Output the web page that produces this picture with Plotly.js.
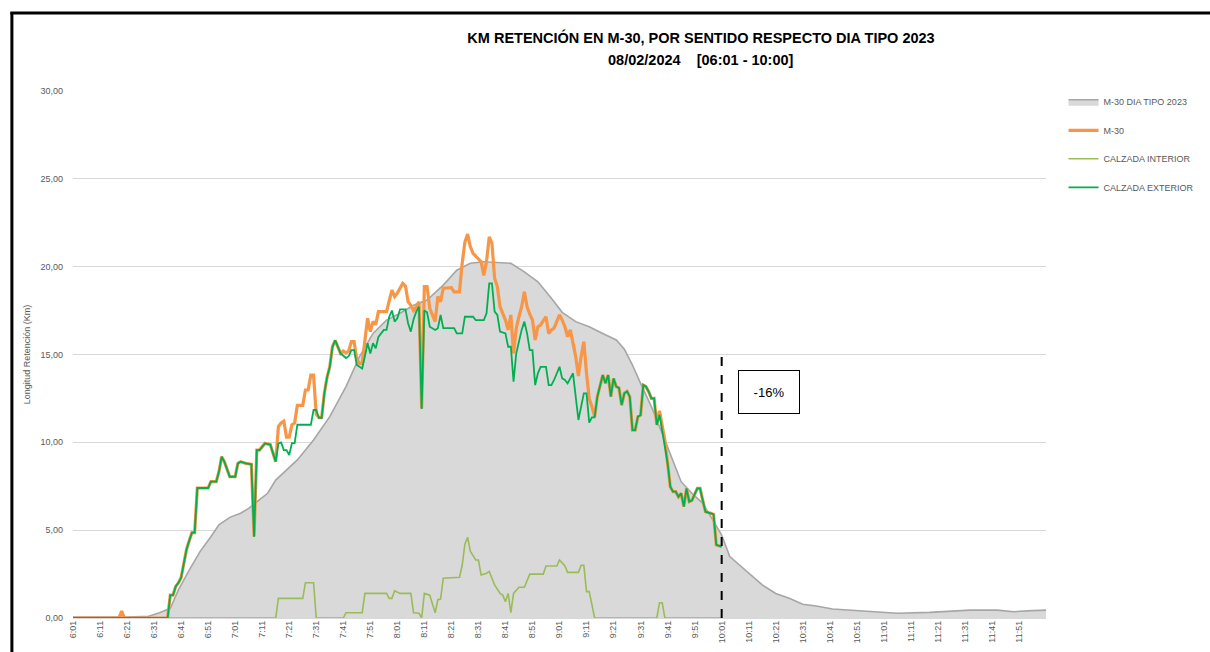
<!DOCTYPE html>
<html>
<head>
<meta charset="utf-8">
<script src="https://cdn.plot.ly/plotly-3.0.1.min.js"></script>
<style>html,body{margin:0;padding:0;background:#fff;}#chart{width:1210px;height:652px;}</style>
</head>
<body>
<div id="chart"></div>
<script>
// minutes counted from 6:01
const tickLabels = ["6:01","6:11","6:21","6:31","6:41","6:51","7:01","7:11","7:21","7:31","7:41","7:51",
  "8:01","8:11","8:21","8:31","8:41","8:51","9:01","9:11","9:21","9:31","9:41","9:51",
  "10:01","10:11","10:21","10:31","10:41","10:51","11:01","11:11","11:21","11:31","11:41","11:51"];

const tipoX = [0,10,20,28,32,36,39,43,47,51,
  54,58,62,65,68,72,75,80,83,89,
  95,101,106,111,116,121,126,131,137,142,
  147,152,157,162,167,172,177,181,186,191,
  196,201,204,207,210,214,218,222,225,229,
  233,236,240,243,250,255,260,265,270,275,
  281,287,295,305,317,325,332,342,348,355,360];
const tipoY = [0.05,0.05,0.05,0.1,0.3,0.55,1.6,2.73,3.78,4.63,
  5.3,5.73,5.96,6.24,6.62,7.1,7.85,8.6,9.0,10.13,
  11.46,13.17,14.88,16.2,16.96,17.35,17.8,18.1,18.95,19.8,
  20.19,20.28,20.22,20.19,19.7,19.14,18.2,17.4,16.87,16.58,
  16.2,15.83,15.3,14.4,13.36,12.03,10.51,9.0,7.76,7.1,
  6.53,5.77,4.72,3.5,2.54,1.88,1.4,1.12,0.78,0.68,
  0.51,0.45,0.36,0.27,0.32,0.4,0.45,0.45,0.36,0.42,0.45];

const m30X = [0,17,18,19,35,36,37,38,39,40,
  41,42,43,44,45,46,50,51,53,54,
  55,56,58,60,61,62,64,66,67,68,
  69,71,73,75,76,77,78,79,80,81,
  82,83,85,86,87,88,89,90,91,92,
  93,94,95,96,97,98,99,100,101,102,
  103,104,105,106,107,108,109,110,111,112,
  113,116,117,118,119,120,122,123,124,125,
  126,127,128,129,130,131,132,134,135,136,
  137,139,140,141,143,144,145,146,147,148,
  149,150,151,152,153,154,155,156,157,158,
  159,160,161,162,163,164,165,166,167,168,
  169,170,171,172,173,174,175,176,177,178,
  180,181,182,183,184,186,187,188,189,190,
  191,192,193,194,196,197,198,199,200,201,
  202,203,204,205,206,207,208,209,210,211,
  212,213,214,215,216,217,218,219,220,221,
  222,223,224,225,226,227,228,229,231,232,
  233,234,236,237,238,240];
const m30Y = [0,0,0.4,0,0,1.3,1.3,1.8,2.0,2.3,
  3.1,3.9,4.4,4.86,4.86,7.4,7.4,7.76,7.76,8.33,
  9.18,8.9,8.04,8.04,8.8,8.9,8.8,8.75,4.63,9.56,
  9.56,9.94,9.87,8.9,10.9,11.1,11.2,10.3,10.3,11.0,
  11.1,12.1,12.1,12.98,12.98,13.83,13.83,11.6,11.4,11.4,
  12.8,13.7,14.3,15.44,15.8,15.44,15.06,15.2,15.1,15.2,
  15.73,15.73,14.7,14.5,14.5,15.8,17.06,16.3,16.87,16.7,
  17.44,17.44,18.0,18.67,18.3,18.5,19.05,18.9,18.0,17.8,
  17.5,17.7,18.0,11.94,18.86,18.86,17.63,16.87,18.3,18.0,
  18.77,18.77,18.8,18.57,18.57,20.2,21.4,21.86,21.14,20.76,
  20.6,20.47,20.28,19.5,20.3,21.7,21.33,19.34,18.86,17.72,
  17.35,16.96,16.4,17.25,15.07,16.5,17.15,17.72,18.57,17.72,
  17.3,16.96,15.83,16.58,16.68,16.96,17.15,16.2,16.4,16.5,
  17.25,16.96,16.58,16.01,16.4,14.88,13.78,14.88,15.73,13.93,
  12.5,12.03,11.46,12.6,13.83,13.36,13.83,12.6,13.64,13.17,
  13.1,12.12,12.79,12.9,12.6,10.7,10.7,11.46,11.55,13.26,
  13.17,12.88,12.5,12.5,10.99,11.8,10.9,10.1,8.8,7.47,
  7.19,7.19,6.9,7.1,6.34,7.38,6.62,6.7,7.38,7.38,
  6.7,6.05,5.96,5.9,4.16,4.06];

const intX = [0,75,76,85,86,89,90,100,101,107,
  108,116,117,118,119,121,125,126,128,129,
  130,132,134,135,136,137,143,144,145,146,
  147,149,150,151,153,154,156,158,159,160,
  161,162,163,165,167,169,174,175,179,180,
  182,183,187,188,189,190,191,193,216,217,
  218,219,240];
const intY = [0,0,1.12,1.12,2.01,2.01,0,0,0.3,0.3,
  1.4,1.4,1.12,1.12,1.55,1.4,1.4,0.3,0.27,0,
  1.4,1.3,0.3,1.04,1.08,2.26,2.32,3.0,4.2,4.6,
  3.8,3.3,3.3,2.45,2.55,2.65,1.88,1.4,1.3,0.93,
  1.4,0.3,1.4,1.75,1.75,2.5,2.5,2.96,2.96,3.3,
  2.96,2.6,2.6,3.0,3.0,1.5,1.5,0,0,0.87,
  0.87,0,0];

const extX = [0,35,36,37,38,39,40,41,42,43,
  44,45,46,50,51,53,54,55,56,58,
  60,61,62,64,66,67,68,69,71,73,
  75,76,77,78,79,80,81,82,83,88,
  89,90,91,92,93,94,95,96,97,98,
  99,101,102,103,104,105,106,107,108,109,
  110,111,112,113,115,116,117,118,119,120,
  121,123,124,125,126,127,128,129,130,131,
  132,134,135,136,137,141,142,144,145,148,
  149,152,153,154,155,156,157,158,160,161,
  162,163,164,165,166,167,168,169,170,171,
  172,173,175,176,177,178,180,181,182,183,
  185,187,189,190,191,192,193,194,196,197,
  198,199,200,201,202,203,204,205,206,207,
  208,209,210,211,212,213,214,215,216,217,
  218,219,220,221,222,223,224,225,226,227,
  228,229,231,232,233,234,236,237,238,240];
const extY = [0,0,1.3,1.3,1.8,2.0,2.3,3.1,3.9,4.4,
  4.86,4.86,7.4,7.4,7.76,7.76,8.33,9.18,8.9,8.04,
  8.04,8.8,8.9,8.8,8.75,4.63,9.56,9.56,9.94,9.87,
  8.9,9.94,10.0,9.56,9.56,9.28,9.96,9.96,11.0,11.0,
  11.84,11.84,11.4,11.4,12.8,13.7,14.3,15.44,15.8,15.44,
  15.06,14.8,14.9,15.25,15.25,14.4,14.3,14.2,14.9,15.64,
  15.06,15.64,15.35,16.0,16.4,16.4,17.15,17.5,16.87,17.06,
  17.57,17.57,16.77,16.3,17.0,17.44,17.72,11.9,17.5,17.4,
  16.58,16.4,16.5,17.25,16.5,16.5,16.2,16.2,17.15,17.15,
  16.96,16.96,17.35,19.05,19.05,17.44,17.25,16.3,16.2,15.44,
  15.44,13.45,15.07,15.83,16.4,16.87,16.2,15.25,15.25,13.26,
  13.93,14.3,14.3,13.26,13.26,13.55,14.3,13.64,13.55,13.36,
  13.93,11.27,12.79,12.79,11.12,11.42,11.42,12.6,13.83,13.36,
  13.83,12.6,13.64,13.17,13.1,12.12,12.79,12.9,12.6,10.7,
  10.7,11.46,11.55,13.26,13.17,12.88,12.5,12.5,10.99,11.56,
  10.51,9.75,8.8,7.47,7.19,7.19,6.9,7.1,6.34,7.38,
  6.62,6.7,7.38,7.38,6.7,6.05,5.96,5.9,4.16,4.06];

const cutMinute = 240;     // 10:01
const cutTop = 15;
const changeText = "-16%";
const changePos = [257.5, 12.85];
const titleLine1 = 'KM RETENCIÓN EN M-30, POR SENTIDO RESPECTO DIA TIPO 2023';
const titleLine2 = '08/02/2024\u00a0\u00a0\u00a0\u00a0[06:01 - 10:00]';

const tickVals = tickLabels.map((_, i) => i * 10);

const traces = [
  {x: tipoX, y: tipoY, type: 'scatter', mode: 'lines', name: 'M-30 DIA TIPO 2023',
   fill: 'tozeroy', fillcolor: '#d9d9d9', line: {color: '#a6a6a6', width: 1.6}, legendgroup: 'a'},
  {x: m30X, y: m30Y, type: 'scatter', mode: 'lines', name: 'M-30',
   line: {color: '#f79646', width: 3.2}, legendgroup: 'b'},
  {x: intX, y: intY, type: 'scatter', mode: 'lines', name: 'CALZADA INTERIOR',
   line: {color: '#9bbb59', width: 1.6}, legendgroup: 'c'},
  {x: extX, y: extY, type: 'scatter', mode: 'lines', name: 'CALZADA EXTERIOR',
   line: {color: '#00b050', width: 1.8}, legendgroup: 'd'}
];

const baseFont = 'Liberation Sans, Arial, sans-serif';

const layout = {
  width: 1210, height: 652,
  margin: {l: 73, r: 164, t: 91, b: 34, pad: 0, autoexpand: false},
  paper_bgcolor: '#ffffff', plot_bgcolor: '#ffffff',
  separators: ',.',
  showlegend: true,
  font: {family: baseFont, color: '#595959', size: 9},
  title: {
    text: '<b>' + titleLine1 + '</b>',
    x: 701/1210, xref: 'container', xanchor: 'center',
    y: 1 - 38/652, yref: 'container', yanchor: 'middle',
    font: {family: baseFont, size: 14.5, color: '#000000'}
  },
  xaxis: {
    range: [0, 360], tickvals: tickVals, ticktext: tickLabels, tickangle: -90,
    showgrid: false, zeroline: false, showline: false, ticks: '',
    tickfont: {size: 9, color: '#595959'}, automargin: false, fixedrange: true
  },
  yaxis: {
    range: [0, 30], dtick: 5, tick0: 0, tickformat: '.2f',
    showgrid: true, gridcolor: '#d9d9d9', gridwidth: 1,
    zeroline: true, zerolinecolor: '#d9d9d9', showline: false, ticks: '',
    ticklabelstandoff: 9,
    tickfont: {size: 9, color: '#595959'}, automargin: false,
    title: {text: 'Longitud Retención (Km)', font: {size: 9, color: '#595959'}, standoff: 8}
  },
  legend: {
    x: 1.018, xanchor: 'left', y: 1.007, yanchor: 'top',
    font: {size: 9, color: '#595959'}, traceorder: 'grouped', tracegroupgap: 9.5,
    bgcolor: 'rgba(0,0,0,0)', itemwidth: 30
  },
  shapes: [
    {type: 'line', xref: 'x', yref: 'y', x0: cutMinute, x1: cutMinute, y0: 0, y1: cutTop,
     line: {color: '#000000', width: 2, dash: 'dash'}},
    {type: 'line', xref: 'paper', yref: 'paper', x0: -0.0628, x1: -0.0628, y0: -0.2, y1: 1.148,
     line: {color: '#000000', width: 3}},
    {type: 'line', xref: 'paper', yref: 'paper', x0: -0.0645, x1: 1.3, y0: 1.148, y1: 1.148,
     line: {color: '#000000', width: 3}}
  ],
  annotations: [
    {xref: 'paper', yref: 'paper', x: (701 - 73) / 973, y: (618 - 60) / 527,
     xanchor: 'center', yanchor: 'middle', text: '<b>' + titleLine2 + '</b>', showarrow: false,
     font: {family: baseFont, size: 14.5, color: '#000000'}},
    {xref: 'x', yref: 'y', x: changePos[0], y: changePos[1], text: changeText, showarrow: false,
     font: {family: baseFont, size: 13, color: '#000000'},
     bordercolor: '#000000', borderwidth: 1, bgcolor: '#ffffff', width: 56, height: 38, borderpad: 2}
  ]
};

Plotly.newPlot('chart', traces, layout, {displayModeBar: false, staticPlot: true});
</script>
</body>
</html>
